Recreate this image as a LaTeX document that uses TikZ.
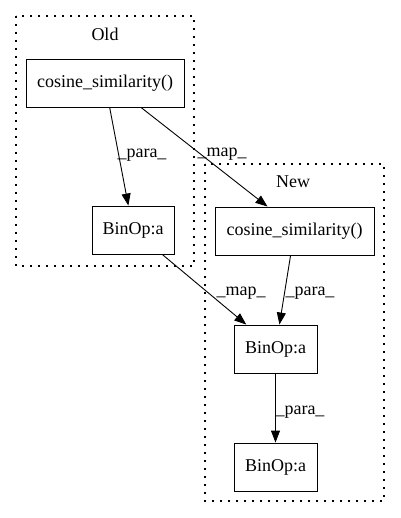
\documentclass[tikz,border=0pt]{standalone}
\usepackage{fontspec}
\setmainfont{Liberation Serif}
\usetikzlibrary{arrows.meta}
\begin{document}
\begin{tikzpicture}[x=1pt,y=-1pt,
  box/.style={draw,line width=0.9pt,inner sep=0pt,font=\fontsize{18}{20}\selectfont},
  cluster/.style={draw,line width=1.4pt,dash pattern=on 1.6pt off 6.4pt},
  lab/.style={inner sep=0pt,font=\fontsize{18}{20}\selectfont},
  edge/.style={draw,line width=0.9pt,-{Triangle[length=12pt,width=9pt]}}]
\path[use as bounding box,fill=white] (0,0) rectangle (400,518);
% clusters
\draw[cluster] (16,16) rectangle (194,266);
\draw[cluster] (205,164) rectangle (384,501);
\node[lab] (oldlab) at (105,34) {Old};
\node[lab] (newlab) at (293,182) {New};
% nodes
\node[box,minimum width=158pt,minimum height=48pt] (ocos) at (105,83) {cosine\_similarity()};
\node[box,minimum width=82pt,minimum height=48pt] (obin) at (133,230) {BinOp:a};
\node[box,minimum width=159pt,minimum height=48pt] (ncos) at (294.5,231) {cosine\_similarity()};
\node[box,minimum width=83pt,minimum height=48pt] (nbin1) at (275.5,349) {BinOp:a};
\node[box,minimum width=83pt,minimum height=48pt] (nbin2) at (275.5,467) {BinOp:a};
% edges
\draw[edge] (ocos) -- (obin);
\draw[edge] ([xshift=36pt]ocos.south) -- ([xshift=-27pt]ncos.north);
\draw[edge] (obin) -- (nbin1);
\draw[edge] (ncos) -- (nbin1);
\draw[edge] (nbin1) -- (nbin2);
% edge labels
\node[lab] (l1) at (142,155) {\_para\_};
\node[lab] (l2) at (222,154) {\_map\_};
\node[lab] (l3) at (241,293) {\_map\_};
\node[lab] (l4) at (310,293) {\_para\_};
\node[lab] (l5) at (300,412) {\_para\_};
\end{tikzpicture}
\end{document}
